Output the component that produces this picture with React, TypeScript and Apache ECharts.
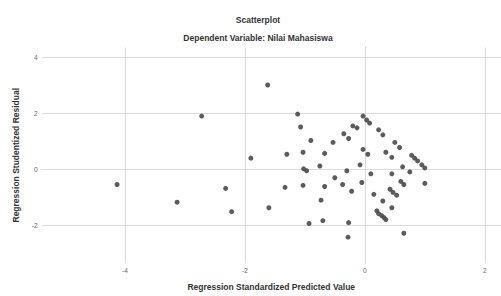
import React, { useEffect, useRef } from "react";
import * as echarts from "echarts";

const titleText = "Scatterplot";
const subtitleText = "Dependent Variable: Nilai Mahasiswa";
const xAxisTitle = "Regression Standardized Predicted Value";
const yAxisTitle = "Regression Studentized Residual";

const xTicks = [-4, -2, 0, 2];
const yTicks = [-2, 0, 2, 4];

const predicted = [
  -1.62, -2.72, -1.12, -1.07, -0.9, -0.53, -1.9, -1.3, -1.03, -0.67, -0.75, -1.02, -0.97,
  -0.35, -0.27, -0.2, -0.13, -0.03, 0.03, 0.08, 0.23, 0.3, 0.5, 0.58, 0.78, 0.83, 0.88,
  0.95, 1.0, -0.03, 0.05, 0.35, 0.45, -0.08, -0.3, 0.1, 0.45, 0.63, 0.75, -0.5, -0.37,
  -0.05, 0.6, 0.65, 1.0, -1.33, -1.03, -0.67, -0.22, 0.15, 0.42, 0.47, 0.53, -0.73, 0.3,
  0.45, 0.2, 0.23, 0.28, 0.32, 0.35, -0.93, -0.7, -0.27, -0.28, 0.65, -4.13, -3.13,
  -2.32, -2.22, -1.6,
];
const residual = [
  3.01, 1.9, 1.97, 1.51, 1.03, 0.96, 0.4, 0.54, 0.61, 0.57, 0.12, 0.02, -0.05,
  1.27, 1.1, 1.55, 1.48, 1.9, 1.76, 1.65, 1.41, 1.23, 0.96, 0.78, 0.5, 0.4, 0.3,
  0.16, 0.05, 0.71, 0.54, 0.61, 0.43, 0.16, -0.05, -0.16, -0.16, 0.09, -0.09, -0.3, -0.54,
  -0.47, -0.43, -0.54, -0.5, -0.64, -0.57, -0.61, -0.78, -0.89, -0.71, -0.82, -0.92, -1.1, -1.13,
  -1.37, -1.48, -1.58, -1.65, -1.72, -1.79, -1.93, -1.83, -1.9, -2.42, -2.28, -0.54, -1.17,
  -0.68, -1.51, -1.37,
];

const FONT = "Liberation Sans, Arial, sans-serif";

export default function App() {
  const ref = useRef<HTMLDivElement>(null);
  useEffect(() => {
    if (!ref.current) return;
    const chart = echarts.init(ref.current, null, { renderer: "svg" });
    const points = predicted.map((x, i) => [x, residual[i]]);
    const gridLines = [
      ...xTicks.map((v) => ({ xAxis: v })),
      ...yTicks.map((v) => ({ yAxis: v })),
    ];
    chart.setOption({
      animation: false,
      backgroundColor: "#ffffff",
      textStyle: { fontFamily: FONT },
      graphic: [
        {
          type: "text",
          x: 258,
          y: 20,
          style: {
            text: titleText,
            fontFamily: FONT,
            fontSize: 8.5,
            fontWeight: "bold",
            fill: "#333",
            textAlign: "center",
            textVerticalAlign: "middle",
          },
        },
        {
          type: "text",
          x: 258,
          y: 38,
          style: {
            text: subtitleText,
            fontFamily: FONT,
            fontSize: 8.5,
            fontWeight: "bold",
            fill: "#333",
            textAlign: "center",
            textVerticalAlign: "middle",
          },
        },
      ],
      grid: { left: 41.5, right: 0, top: 47.4, bottom: 27.5, containLabel: false },
      xAxis: {
        type: "value",
        min: -5.39,
        max: 2.27,
        name: xAxisTitle,
        nameLocation: "middle",
        nameGap: 19,
        nameTextStyle: { fontFamily: FONT, fontSize: 8.5, fontWeight: "bold", color: "#333" },
        axisLine: { show: true, lineStyle: { color: "#b5b5b5", width: 1 } },
        axisTick: { show: true, length: 3, customValues: xTicks, lineStyle: { color: "#b5b5b5" } },
        axisLabel: { customValues: xTicks, fontSize: 6.5, color: "#666", margin: 4, fontFamily: FONT },
        splitLine: { show: false },
      },
      yAxis: {
        type: "value",
        min: -3.34,
        max: 4.35,
        name: yAxisTitle,
        nameLocation: "middle",
        nameGap: 17,
        nameRotate: 90,
        nameTextStyle: { fontFamily: FONT, fontSize: 8.5, fontWeight: "bold", color: "#333" },
        axisLine: { show: true, lineStyle: { color: "#b5b5b5", width: 1 } },
        axisTick: { show: true, length: 3, customValues: yTicks, lineStyle: { color: "#b5b5b5" } },
        axisLabel: { customValues: yTicks, fontSize: 6.5, color: "#666", margin: 4, fontFamily: FONT },
        splitLine: { show: false },
      },
      series: [
        {
          type: "scatter",
          data: points,
          symbol: "circle",
          symbolSize: 5,
          itemStyle: { color: "#4a4a4a", opacity: 0.9 },
          markLine: {
            silent: true,
            symbol: "none",
            label: { show: false },
            lineStyle: { color: "#dcdcdc", width: 1, type: "solid" },
            data: gridLines,
            z: 1,
          },
          z: 3,
        },
      ],
    });
    return () => chart.dispose();
  }, []);
  return (
    <div
      ref={ref}
      style={{ position: "fixed", left: 0, top: 0, width: 501, height: 296 }}
    />
  );
}
